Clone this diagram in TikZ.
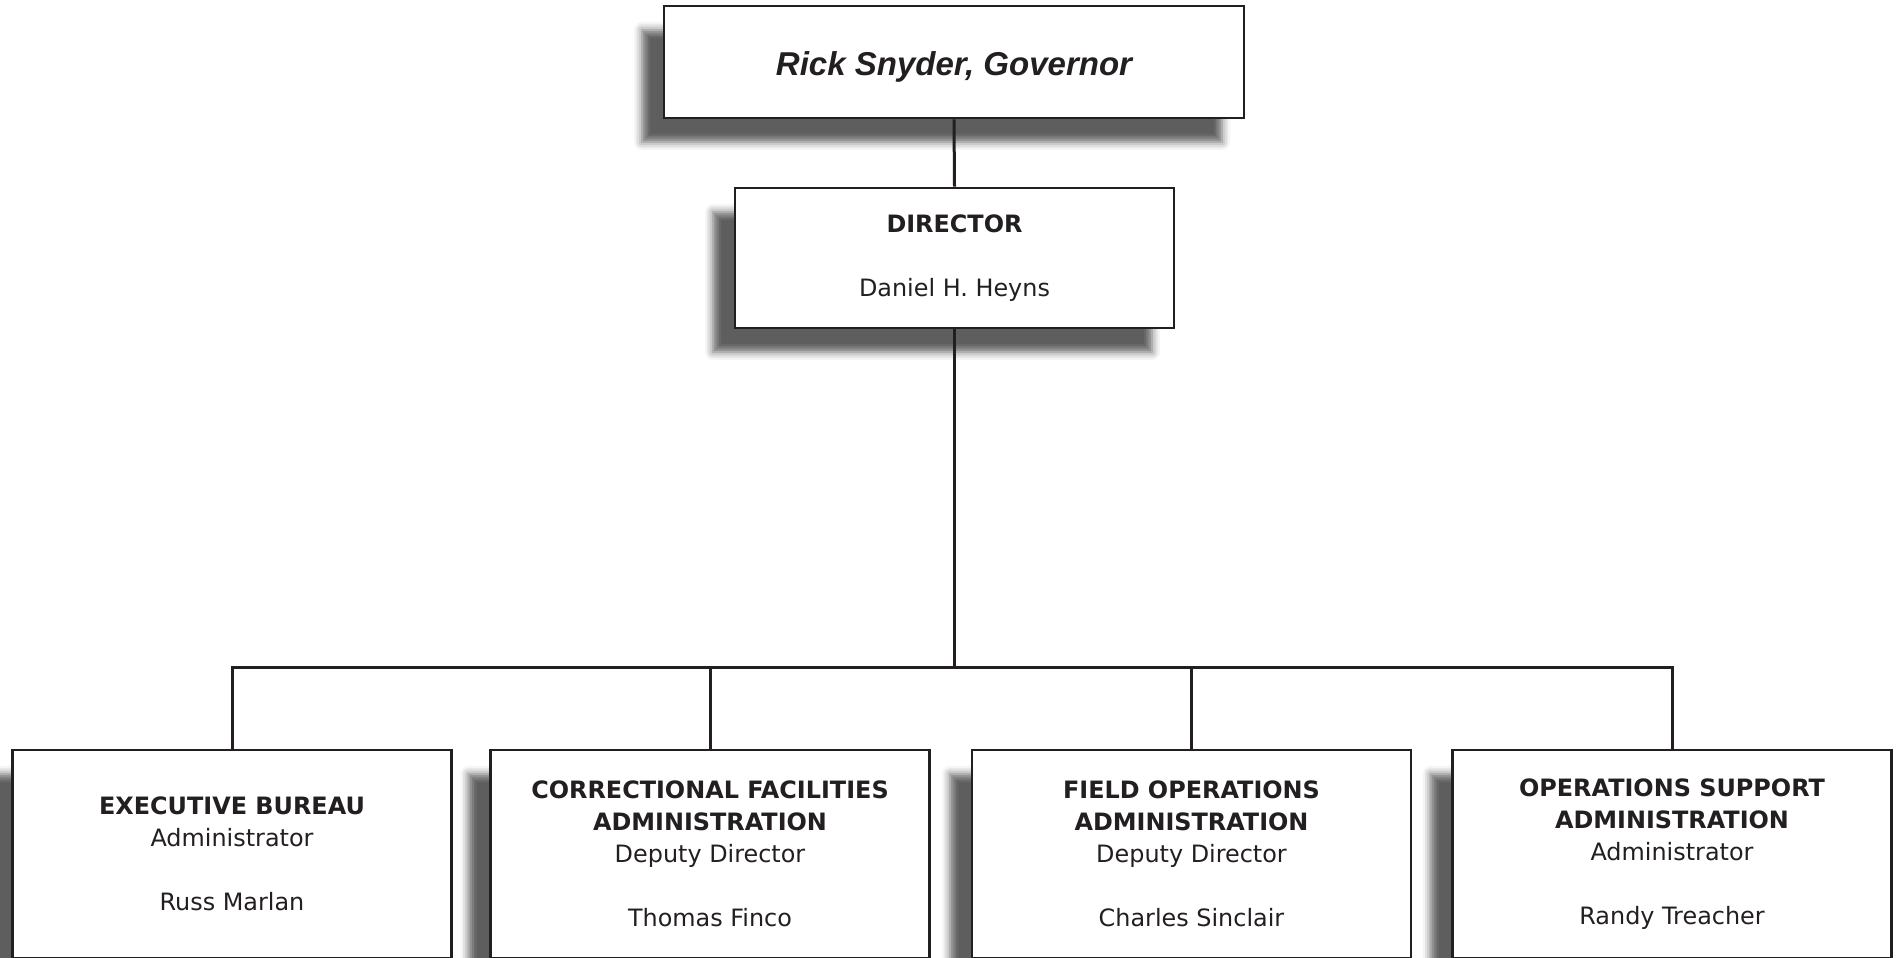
\documentclass[tikz,border=0pt]{standalone}
\usepackage{fontspec}
\setmainfont{DejaVu Sans}
\newfontfamily\govfont{Liberation Sans}
\usepackage{tikz}
\usetikzlibrary{shadows.blur}
\definecolor{inkgray}{HTML}{231F20}

\begin{document}
\begin{tikzpicture}[x=0.1mm,y=-0.1mm,
  box/.style={draw=inkgray,line width=0.28mm,fill=white,inner sep=0pt,align=center,text=inkgray,
    font=\fontsize{6.8pt}{9.1pt}\selectfont,
    blur shadow={shadow xshift=-2.2mm,shadow yshift=-2.4mm,shadow blur radius=0.8mm,shadow opacity=63}},
  unit/.style={box,minimum width=43.9mm,minimum height=20.8mm},
  link/.style={draw=inkgray,line width=0.3mm}]
\clip (0,0) rectangle (1900,958);
\node[box,minimum width=58mm,minimum height=11.2mm,text height=2.8mm,text depth=0pt] (gov) at (954,62)
  {\govfont\fontsize{9.4pt}{11pt}\selectfont\bfseries\itshape Rick Snyder, Governor};
\node[box,minimum width=43.9mm,minimum height=14mm] (dir) at (954.5,258)
  {\textbf{DIRECTOR}\\[9.1pt]Daniel H. Heyns};
\node[unit] (eb) at (232,854)
  {\textbf{EXECUTIVE BUREAU}\\Administrator\\[9.1pt]Russ Marlan};
\node[unit] (cfa) at (710,854)
  {\textbf{CORRECTIONAL FACILITIES}\\\textbf{ADMINISTRATION}\\Deputy Director\\[9.1pt]Thomas Finco};
\node[unit] (foa) at (1191.5,854)
  {\textbf{FIELD OPERATIONS}\\\textbf{ADMINISTRATION}\\Deputy Director\\[9.1pt]Charles Sinclair};
\node[unit] (osa) at (1672,854)
  {\textbf{OPERATIONS SUPPORT}\\\textbf{ADMINISTRATION}\\Administrator\\[9.1pt]Randy Treacher};
\coordinate (bar) at (954.5,668);
\draw[link] (gov.south) -- (dir.north);
\draw[link] (dir.south) -- (bar);
\draw[link] (eb.north) |- (bar) -| (osa.north);
\draw[link] (cfa.north) -- (cfa.north |- bar);
\draw[link] (foa.north) -- (foa.north |- bar);
\end{tikzpicture}
\end{document}
